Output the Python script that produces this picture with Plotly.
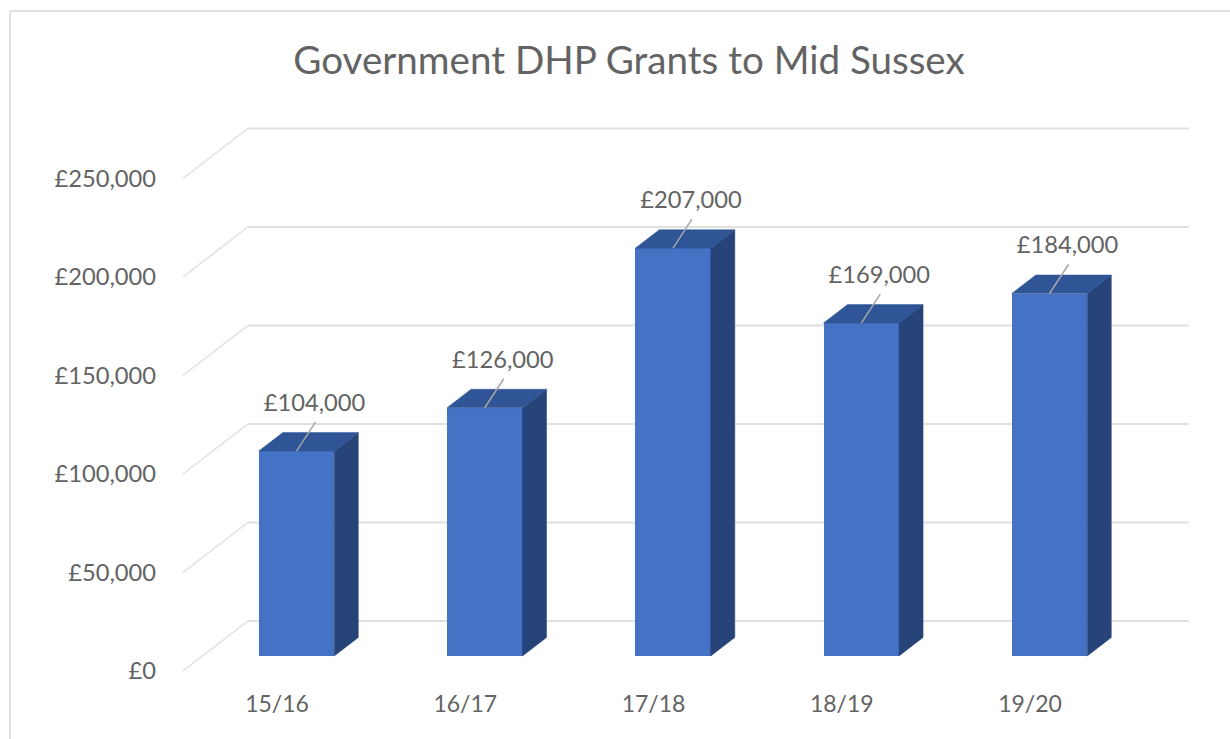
import plotly.graph_objects as go

# ---- data ----
categories = ["15/16", "16/17", "17/18", "18/19", "19/20"]
values = [104000, 126000, 207000, 169000, 184000]
value_ticks = [0, 50000, 100000, 150000, 200000, 250000]
value_labels = ["£0", "£50,000", "£100,000", "£150,000", "£200,000", "£250,000"]
title = "Government DHP Grants to Mid Sussex"

# ---- pseudo-3D geometry (axis units) ----
W, H = 1230, 739
PX_CAT = 188.25            # pixels per category
PX_VAL = 1.97 / 1000       # pixels per £
X0_PX, Y0_PX = 277, 671    # pixel of category 0 / value 0 on the front plane
DEPTH_X = 65 / PX_CAT      # full depth of the wall in x
DEPTH_Y = 50 / PX_VAL      # full depth of the wall in y
BAR_Z0, BAR_Z1 = 0.30, 0.67
BAR_W = 75.5 / PX_CAT
L, T, R, B = 157, 100, 1210, 688   # plot area in pixels

x_range = [(L - X0_PX) / PX_CAT, (R - X0_PX) / PX_CAT]
y_range = [(Y0_PX - B) / PX_VAL, (Y0_PX - T) / PX_VAL]

GRID = "#e0e0e0"
FRONT, TOP, SIDE = "#4472c4", "#2f5597", "#264478"
TEXT = "#636363"
FONT = "Lato"


def proj(x, v, z):
    return x + z * DEPTH_X, v + z * DEPTH_Y


fig = go.Figure()
shapes = []

# wall + back gridlines (below the bars)
x_left, x_right = -0.5, 4.5
for t in value_ticks:
    a, b, c = proj(x_left, t, 0), proj(x_left, t, 1), proj(x_right, t, 1)
    shapes.append(dict(type="line", xref="x", yref="y", layer="below",
                       x0=a[0], y0=a[1], x1=b[0], y1=b[1],
                       line=dict(color=GRID, width=1.5)))
    shapes.append(dict(type="line", xref="x", yref="y", layer="below",
                       x0=b[0], y0=b[1], x1=c[0], y1=c[1],
                       line=dict(color=GRID, width=2)))

# chart frame: top and left edges only
shapes.append(dict(type="line", xref="paper", yref="paper", layer="below",
                   x0=(10 - L) / (R - L), x1=(1230 - L) / (R - L),
                   y0=(B - 11) / (B - T), y1=(B - 11) / (B - T), line=dict(color=GRID, width=2)))
shapes.append(dict(type="line", xref="paper", yref="paper", layer="below",
                   x0=(10 - L) / (R - L), x1=(10 - L) / (R - L),
                   y0=(B - 11) / (B - T), y1=(B - 739) / (B - T), line=dict(color=GRID, width=2)))

# front faces
fig.add_trace(go.Bar(x=[proj(i, 0, BAR_Z0)[0] for i in range(len(values))],
                     y=values, base=[BAR_Z0 * DEPTH_Y] * len(values),
                     width=BAR_W, marker=dict(color=FRONT, line=dict(width=0)),
                     showlegend=False, name="DHP grant"))

# bar side and top faces
for i, v in enumerate(values):
    xl, xr = i - BAR_W / 2, i + BAR_W / 2
    side = [proj(xr, 0, BAR_Z0), proj(xr, 0, BAR_Z1), proj(xr, v, BAR_Z1), proj(xr, v, BAR_Z0)]
    top = [proj(xl, v, BAR_Z0), proj(xl, v, BAR_Z1), proj(xr, v, BAR_Z1), proj(xr, v, BAR_Z0)]
    for poly, col in ((side, SIDE), (top, TOP)):
        fig.add_trace(go.Scatter(x=[q[0] for q in poly] + [poly[0][0]],
                                 y=[q[1] for q in poly] + [poly[0][1]],
                                 mode="lines", fill="toself", fillcolor=col,
                                 line=dict(color=col, width=0.5),
                                 hoverinfo="skip", showlegend=False))

# leader lines and data labels
for i, v in enumerate(values):
    cx, cy = proj(i, v, BAR_Z0)
    fig.add_trace(go.Scatter(x=[cx, cx + 19 / PX_CAT], y=[cy, cy + 29 / PX_VAL], mode="lines",
                             line=dict(color="#a6a6a6", width=1.5),
                             hoverinfo="skip", showlegend=False))
    fig.add_trace(go.Scatter(x=[cx + 18 / PX_CAT], y=[cy + 46 / PX_VAL], mode="text",
                             text=["£{:,}".format(v)],
                             textfont=dict(family=FONT, size=23.7, color=TEXT),
                             textposition="middle center", hoverinfo="skip", showlegend=False))

fig.update_layout(
    width=W, height=H, autosize=False,
    margin=dict(l=L, r=W - R, t=T, b=H - B, pad=0),
    paper_bgcolor="white", plot_bgcolor="white",
    showlegend=False, bargap=0,
    title=dict(text=title, x=629 / W, xanchor="center", y=1 - 60 / H, yanchor="middle",
               font=dict(family=FONT, size=38.6, color=TEXT)),
    xaxis=dict(range=x_range, tickmode="array", tickvals=list(range(len(categories))),
               ticktext=categories, showgrid=False, zeroline=False, showline=False,
               ticks="", tickfont=dict(family=FONT, size=23, color=TEXT), ticklen=0),
    yaxis=dict(range=y_range, tickmode="array", tickvals=value_ticks, ticktext=value_labels,
               showgrid=False, zeroline=False, showline=False, ticks="",
               tickfont=dict(family=FONT, size=23.7, color=TEXT)),
    shapes=shapes,
)

fig.write_html("out.html", config=dict(displayModeBar=False),
               post_script="document.body.style.margin='0';document.body.style.overflow='hidden';")
